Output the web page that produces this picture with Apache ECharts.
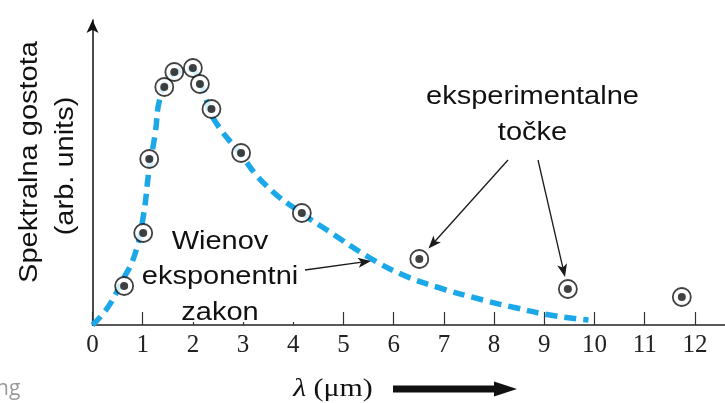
<!DOCTYPE html>
<html><head><meta charset="utf-8">
<script src="https://cdn.jsdelivr.net/npm/echarts@6/dist/echarts.min.js"></script>
<style>html,body{margin:0;padding:0;background:#fff}#c{width:725px;height:403px}</style>
</head><body><div id="c"></div>
<script>
// tick labels on the wavelength axis (µm)
const xTicks = [0,1,2,3,4,5,6,7,8,9,10,11,12];
// experimental points (wavelength µm, spectral density arb. units)
const pointX = [0.63, 1.01, 1.13, 1.43, 1.63, 2.00, 2.14, 2.37, 2.96, 4.17, 6.51, 9.47, 11.74];
const pointY = [39, 92, 166, 238, 253, 257, 241, 216, 172, 112, 66, 36, 28];
// Wien exponential law curve
const curveX = [0, 0.31, 0.57, 0.84, 1.01, 1.12, 1.25, 1.34, 1.50, 1.70, 1.94, 2.13, 2.25, 2.39, 2.93, 3.47, 4.19, 4.67, 5.53, 6.19, 6.86, 7.78, 8.45, 9.11, 9.88];
const curveY = [0, 18, 42, 70, 108, 152, 192, 226, 245, 253, 256, 244, 228, 208, 172, 139, 111, 95, 67, 50, 38, 25, 17, 10, 5];

const pts = pointX.map((x, i) => [x, pointY[i]]);
const curve = curveX.map((x, i) => [x, curveY[i]]);

function arrow(x1, y1, x2, y2, len, hw, color, lw) {
  const a = Math.atan2(y2 - y1, x2 - x1);
  const bx = x2 - len * Math.cos(a), by = y2 - len * Math.sin(a);
  const px = -Math.sin(a) * hw, py = Math.cos(a) * hw;
  return [
    {type: 'line', z: 100, shape: {x1: x1, y1: y1, x2: bx + len * 0.3 * Math.cos(a), y2: by + len * 0.3 * Math.sin(a)}, style: {stroke: color, lineWidth: lw}},
    {type: 'polygon', z: 100, shape: {points: [[x2, y2], [bx + px, by + py], [bx + len * 0.25 * Math.cos(a), by + len * 0.25 * Math.sin(a)], [bx - px, by - py]]}, style: {fill: color}}
  ];
}

const sans = 'Liberation Sans';
const SX = 1.16;
function label(text, x, y, rot) {
  return {type: 'text', z: 101, x: x, y: y, rotation: rot || 0, scaleX: SX,
    style: {text: text, font: '25px "' + sans + '"', fill: '#111', align: 'center', verticalAlign: 'middle'}};
}

const chart = echarts.init(document.getElementById('c'), null, {renderer: 'canvas'});
chart.setOption({
  animation: false,
  backgroundColor: '#fff',
  grid: {left: 92.5, right: 0, top: 20, bottom: 78, containLabel: false},
  xAxis: {
    type: 'value', min: 0, max: 12.6,
    axisLine: {show: true, onZero: false, lineStyle: {color: '#222', width: 1.6}},
    axisTick: {show: true, inside: true, length: 13, customValues: xTicks, lineStyle: {color: '#333', width: 1.2}},
    axisLabel: {show: true, customValues: xTicks, margin: 8, fontFamily: 'Liberation Serif', fontSize: 25, color: '#222'},
    splitLine: {show: false}
  },
  yAxis: {
    type: 'value', min: 0, max: 305,
    axisLine: {show: true, symbol: ['none', 'arrow'], symbolSize: [9, 13], lineStyle: {color: '#111', width: 1.5}},
    axisTick: {show: false}, axisLabel: {show: false}, splitLine: {show: false}
  },
  series: [
    {type: 'line', data: curve, smooth: 0.5, symbol: 'none', z: 2,
      lineStyle: {color: '#1aa8e8', width: 5.5, type: [12, 7], cap: 'butt'}},
    {type: 'scatter', data: pts, symbol: 'circle', symbolSize: 18, z: 3,
      itemStyle: {color: '#fff', borderColor: '#111', borderWidth: 1.8}},
    {type: 'scatter', data: pts, symbol: 'circle', symbolSize: 8, z: 4,
      itemStyle: {color: '#111'}}
  ],
  graphic: [
    {type: 'rect', z: 99, shape: {x: 160, y: 224, width: 138, height: 98}, style: {fill: '#fff'}},
    label('Wienov', 220, 242.5),
    label('eksponentni', 220, 277.5),
    label('zakon', 220, 313),
    label('eksperimentalne', 532.5, 97),
    label('točke', 532.5, 133),
    label('Spektralna gostota', 30, 162, Math.PI / 2),
    label('(arb. units)', 66, 166, Math.PI / 2),
    ...arrow(305, 270, 371, 261, 13, 5, '#1a1a1a', 1.3),
    ...arrow(508, 160, 428.5, 248.5, 13, 5, '#1a1a1a', 1.3),
    ...arrow(538, 160, 565, 277, 13, 5, '#1a1a1a', 1.3),
    {type: 'text', z: 101, x: 333, y: 389, scaleX: 1.15,
      style: {text: '{i|λ} (μm)', font: '26px "Liberation Serif"', fill: '#111', align: 'center', verticalAlign: 'middle',
        rich: {i: {fontStyle: 'italic', fontFamily: 'Liberation Serif', fontSize: 26, fill: '#111'}}}},
    {type: 'polygon', z: 101, shape: {points: [[393, 385.5], [494, 385.5], [494, 381.5], [517, 389], [494, 396.5], [494, 392.5], [393, 392.5]]}, style: {fill: '#111'}},
    {type: 'text', z: 101, x: -4, y: 389, style: {text: 'ng', font: '21px "Open Sans"', fill: '#999', align: 'left', verticalAlign: 'middle'}}
  ]
});
</script></body></html>
